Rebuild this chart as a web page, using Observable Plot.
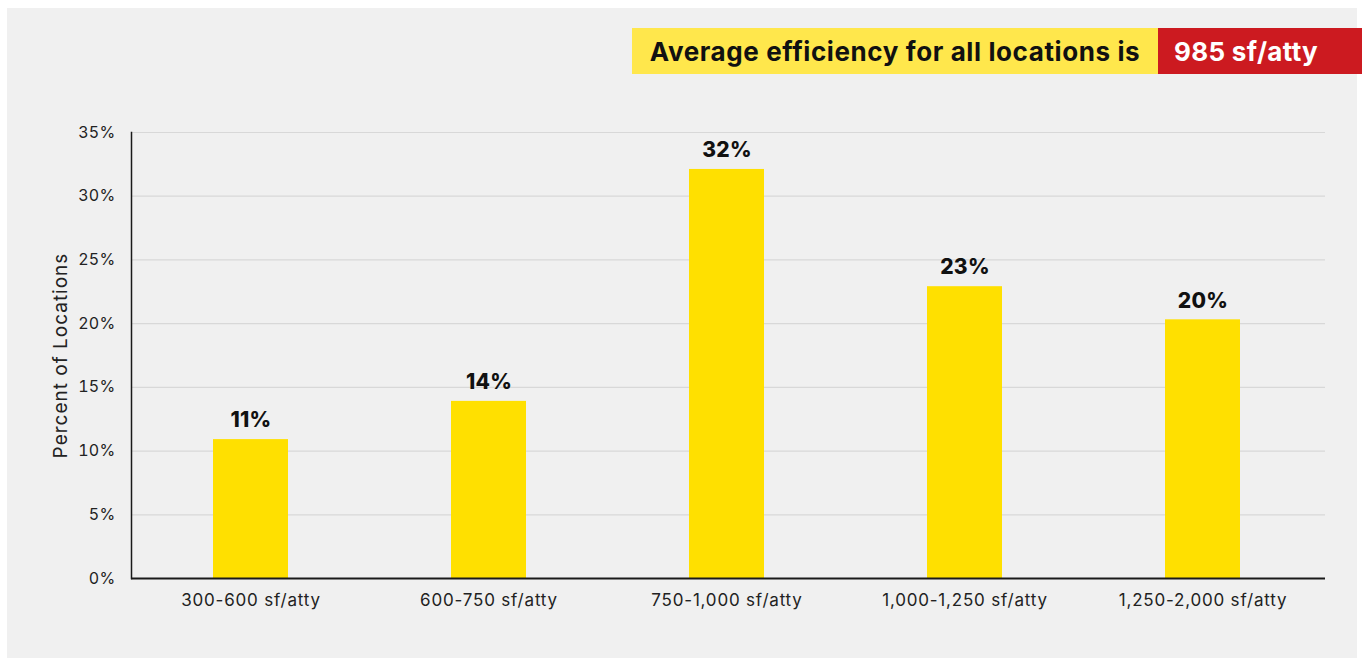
<!DOCTYPE html>
<html><head><meta charset="utf-8">
<script src="https://cdn.jsdelivr.net/npm/d3@7"></script>
<script src="https://cdn.jsdelivr.net/npm/@observablehq/plot@0.6"></script>
<style>
body{margin:0;background:#fff;}
#wrap{position:relative;width:1362px;height:660px;overflow:hidden;font-family:Inter,"Noto Sans",sans-serif;}
#panel{position:absolute;left:7px;top:8px;width:1350px;height:650px;background:#f0f0f0;}
#chart{position:absolute;left:0;top:0;}
.b{position:absolute;top:28px;height:46px;display:flex;align-items:center;font-weight:700;font-size:26px;letter-spacing:0.6px;}
#by{left:632px;width:526px;background:#ffe74c;color:#111;justify-content:center;}
#br{left:1158px;width:204px;background:#cc1a20;color:#fff;padding-left:16px;box-sizing:border-box;letter-spacing:0.3px;}
svg text{letter-spacing:0.3px;}
g[aria-label="x-axis tick label"] text{font-size:17px;letter-spacing:0.8px;}
g.ylab text{letter-spacing:1px;}
</style>
</head><body>
<div id="wrap">
  <div id="panel"></div>
  <div id="chart"></div>
  <div class="b" id="by"></div>
  <div class="b" id="br"></div>
</div>
<script>
const categories = ["300-600 sf/atty", "600-750 sf/atty", "750-1,000 sf/atty", "1,000-1,250 sf/atty", "1,250-2,000 sf/atty"];
const shares = [0.109, 0.139, 0.321, 0.229, 0.203];
const yTicks = [0, 0.05, 0.10, 0.15, 0.20, 0.25, 0.30, 0.35];
const yLabel = "Percent of Locations";
const bannerText = "Average efficiency for all locations is";
const bannerValue = "985 sf/atty";

document.getElementById("by").textContent = bannerText;
document.getElementById("br").textContent = bannerValue;

const data = categories.map((c, i) => ({category: c, share: shares[i]}));
const font = "Inter, 'Noto Sans', sans-serif";

let frameMark;
try { frameMark = Plot.frame({anchor: "left", stroke: "#1a1a1a", strokeWidth: 1.5}); } catch (e) { frameMark = null; }

const chart = Plot.plot({
  width: 1362,
  height: 660,
  marginLeft: 131,
  marginRight: 37,
  marginTop: 132,
  marginBottom: 82,
  style: {background: "transparent", fontFamily: font, fontSize: "16px", color: "#222"},
  x: {domain: categories, paddingInner: 0.686, paddingOuter: 0.343, align: 0.49, label: null, tickSize: 0, tickPadding: 15},
  y: {domain: [0, 0.35], ticks: yTicks, tickFormat: d => Math.round(d * 100) + "%", label: null, tickSize: 0, tickPadding: 16},
  marks: [
    Plot.gridY(yTicks.filter(d => d > 0), {stroke: "#d8d8d8", strokeOpacity: 1, strokeWidth: 1.2}),
    Plot.barY(data, {x: "category", y: "share", fill: "#ffe000"}),
    Plot.text(data, {x: "category", y: "share", text: d => Math.round(d.share * 100) + "%", dy: -19, fontWeight: 800, fontSize: 21, fill: "#111"}),
    Plot.ruleY([0], {stroke: "#1a1a1a", strokeWidth: 2}),
    frameMark,
    Plot.text([yLabel], {frameAnchor: "left", textAnchor: "middle", text: d => d, rotate: -90, dx: -71, fontSize: 19, fill: "#222", className: "ylab"})
  ].filter(Boolean)
});
document.getElementById("chart").appendChild(chart);
</script>
</body></html>
